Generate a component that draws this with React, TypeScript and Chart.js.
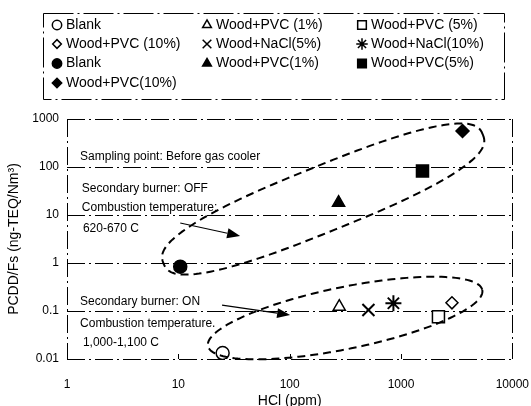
import React, { useEffect, useRef } from 'react';
import { Chart, registerables } from 'chart.js';
import { drawPoint } from 'chart.js/helpers';

Chart.register(...registerables);

const FONT = "'Liberation Sans', Arial, Helvetica, sans-serif";

// ---------- data ----------
const seriesLabels = [
  'Blank', 'Wood+PVC (1%)', 'Wood+PVC (5%)',
  'Wood+PVC (10%)', 'Wood+NaCl(5%)', 'Wood+NaCl(10%)',
  'Blank', 'Wood+PVC(1%)', 'Wood+PVC(5%)',
  'Wood+PVC(10%)',
];
const hclPpm = [25, 279, 2170, 2870, 510, 855, 10.4, 275, 1560, 3570];
const pcddfs = [0.0133, 0.123, 0.076, 0.148, 0.105, 0.145, 0.84, 18.1, 82.6, 562];

const xTickValues = [1, 10, 100, 1000, 10000];
const xTickLabels = ['1', '10', '100', '1000', '10000'];
const yTickValues = [0.01, 0.1, 1, 10, 100, 1000];
const yTickLabels = ['0.01', '0.1', '1', '10', '100', '1000'];

// ---------- marker styles ----------
const pointStyles = ['circle', 'triangle', 'rect', 'rectRot', 'crossRot', 'star', 'circle', 'triangle', 'rect', 'rectRot'];
const filledMarker = [false, false, false, false, false, false, true, true, true, true];
const markerRadius = [6.5, 7, 8.5, 6, 8.5, 8, 6.5, 7, 8.5, 6.5];

// ---------- annotations (data coordinates) ----------
const noteTexts = [
  'Sampling point: Before gas cooler',
  'Secondary burner: OFF',
  'Combustion temperature:',
  '620-670 C',
  'Secondary burner: ON',
  'Combustion temperature.',
  '1,000-1,100 C',
];
const noteX = [1.31, 1.36, 1.36, 1.39, 1.31, 1.31, 1.39];
const noteY = [161, 34.8, 14.0, 5.11, 0.154, 0.0536, 0.0216];

const loopCenterX = [200, 315];
const loopCenterY = [21.5, 0.0714];
const loopTipX = [5430, 5375];
const loopTipY = [475, 0.274];
const loopWidthRatio = [0.19, 0.221];
const loopExponent = [2.6, 2];

const arrowFromX = [10.4, 24.7];
const arrowFromY = [6.81, 0.133];
const arrowToX = [35.9, 101];
const arrowToY = [3.65, 0.0825];

// ---------- legend layout ----------
const legendCols = [57, 207, 362];
const legendRows = [25, 44, 63.5, 83];

const GRID_DASH = [18, 4, 2, 4];

const annotationPlugin = {
  id: 'annotations',
  afterDatasetsDraw(chart: any) {
    const { ctx, chartArea } = chart;
    const xs = chart.scales.x;
    const ys = chart.scales.y;
    ctx.save();
    ctx.strokeStyle = '#000';
    ctx.fillStyle = '#000';

    // small inner tick marks on the bottom axis
    ctx.lineWidth = 1;
    xs.ticks.forEach((t: any, i: number) => {
      if (i === 0 || i === xs.ticks.length - 1) return;
      const px = Math.round(xs.getPixelForValue(t.value)) + 0.5;
      ctx.beginPath();
      ctx.moveTo(px, chartArea.bottom);
      ctx.lineTo(px, chartArea.bottom - 5);
      ctx.stroke();
    });

    // dashed loops
    ctx.lineWidth = 2;
    ctx.setLineDash([8, 5]);
    for (let i = 0; i < loopCenterX.length; i++) {
      const cx = xs.getPixelForValue(loopCenterX[i]);
      const cy = ys.getPixelForValue(loopCenterY[i]);
      const tx = xs.getPixelForValue(loopTipX[i]);
      const ty = ys.getPixelForValue(loopTipY[i]);
      const a = Math.hypot(tx - cx, ty - cy);
      const b = a * loopWidthRatio[i];
      const rot = Math.atan2(ty - cy, tx - cx);
      const n = loopExponent[i];
      ctx.beginPath();
      const steps = 160;
      for (let k = 0; k <= steps; k++) {
        const t = (k / steps) * Math.PI * 2;
        const c = Math.cos(t);
        const s = Math.sin(t);
        const u = a * Math.sign(c) * Math.pow(Math.abs(c), 2 / n);
        const v = b * Math.sign(s) * Math.pow(Math.abs(s), 2 / n);
        const px = cx + u * Math.cos(rot) - v * Math.sin(rot);
        const py = cy + u * Math.sin(rot) + v * Math.cos(rot);
        if (k === 0) ctx.moveTo(px, py); else ctx.lineTo(px, py);
      }
      ctx.closePath();
      ctx.stroke();
    }
    ctx.setLineDash([]);

    // arrows
    ctx.lineWidth = 1.2;
    for (let i = 0; i < arrowFromX.length; i++) {
      const x0 = xs.getPixelForValue(arrowFromX[i]);
      const y0 = ys.getPixelForValue(arrowFromY[i]);
      const x1 = xs.getPixelForValue(arrowToX[i]);
      const y1 = ys.getPixelForValue(arrowToY[i]);
      const ang = Math.atan2(y1 - y0, x1 - x0);
      const hl = 13;
      const hw = 5;
      const bx = x1 - hl * Math.cos(ang);
      const by = y1 - hl * Math.sin(ang);
      ctx.beginPath();
      ctx.moveTo(x0, y0);
      ctx.lineTo(bx, by);
      ctx.stroke();
      ctx.beginPath();
      ctx.moveTo(x1, y1);
      ctx.lineTo(bx - hw * Math.sin(ang), by + hw * Math.cos(ang));
      ctx.lineTo(bx + hw * Math.sin(ang), by - hw * Math.cos(ang));
      ctx.closePath();
      ctx.fill();
    }

    // notes
    ctx.font = `12px ${FONT}`;
    ctx.textAlign = 'left';
    ctx.textBaseline = 'middle';
    for (let i = 0; i < noteTexts.length; i++) {
      ctx.fillText(noteTexts[i], xs.getPixelForValue(noteX[i]), ys.getPixelForValue(noteY[i]));
    }
    ctx.restore();
  },
  afterDraw(chart: any) {
    const { ctx } = chart;
    ctx.save();
    // legend box
    ctx.strokeStyle = '#000';
    ctx.lineWidth = 1;
    ctx.setLineDash([30, 4, 2, 4]);
    ctx.strokeRect(43.5, 13.5, 461, 86);
    ctx.setLineDash([]);
    ctx.font = `14px ${FONT}`;
    ctx.textAlign = 'left';
    ctx.textBaseline = 'middle';
    seriesLabels.forEach((label, i) => {
      const col = i % 3;
      const row = Math.floor(i / 3);
      const x = legendCols[col];
      const y = legendRows[row];
      ctx.fillStyle = filledMarker[i] ? '#000' : '#fff';
      ctx.strokeStyle = '#000';
      ctx.lineWidth = 1.5;
      drawPoint(ctx, {
        pointStyle: pointStyles[i],
        radius: markerRadius[i] * 0.72,
        rotation: 0,
        borderWidth: 1.5,
      } as any, x, y);
      ctx.fillStyle = '#000';
      ctx.fillText(label, x + 9, y);
    });
    ctx.restore();
  },
};

export default function App() {
  const ref = useRef<HTMLCanvasElement>(null);
  useEffect(() => {
    document.body.style.margin = '0';
    Chart.defaults.font.family = FONT;
    Chart.defaults.color = '#000';
    const datasets = seriesLabels.map((label, i) => ({
      label,
      data: [{ x: hclPpm[i], y: pcddfs[i] }],
      pointStyle: pointStyles[i] as any,
      pointRadius: markerRadius[i],
      pointHoverRadius: markerRadius[i],
      pointBorderWidth: pointStyles[i] === 'crossRot' || pointStyles[i] === 'star' ? 2 : 1.5,
      borderColor: '#000',
      backgroundColor: filledMarker[i] ? '#000' : '#fff',
      showLine: false,
    }));
    const chart = new Chart(ref.current!, {
      type: 'scatter',
      data: { datasets },
      plugins: [annotationPlugin],
      options: {
        animation: false,
        responsive: false,
        devicePixelRatio: 1,
        layout: { padding: { top: 119, right: 0, left: 0, bottom: 0 } },
        plugins: {
          legend: { display: false },
          tooltip: { enabled: false },
        },
        scales: {
          x: {
            type: 'logarithmic',
            min: 1,
            max: 10000,
            afterBuildTicks: (s: any) => { s.ticks = xTickValues.map((v) => ({ value: v })); },
            afterFit: (s: any) => { s.height = 47; },
            ticks: {
              callback: (_v: any, idx: number) => xTickLabels[idx],
              font: { size: 12 },
              color: '#000',
              padding: 2,
              autoSkip: false,
              maxRotation: 0,
            },
            grid: {
              color: (c: any) => (c.tick && (c.tick.value === 1 || c.tick.value === 10000) ? '#000' : 'rgba(0,0,0,0)'),
              drawTicks: true,
              tickLength: 16,
              tickColor: 'rgba(0,0,0,0)',
              lineWidth: 1,
            },
            border: { display: false, dash: GRID_DASH },
            title: {
              display: true,
              text: 'HCl (ppm)',
              font: { size: 14, lineHeight: 1 },
              padding: { top: 0, bottom: -2 },
              color: '#000',
            },
          },
          y: {
            type: 'logarithmic',
            min: 0.01,
            max: 1000,
            afterBuildTicks: (s: any) => { s.ticks = yTickValues.map((v) => ({ value: v })); },
            afterFit: (s: any) => { s.width = 67; },
            ticks: {
              callback: (_v: any, idx: number) => yTickLabels[idx],
              font: { size: 12 },
              color: '#000',
              padding: 8,
              autoSkip: false,
            },
            grid: { color: '#000', drawTicks: false, lineWidth: 1 },
            border: { display: false, dash: GRID_DASH },
            title: {
              display: true,
              text: 'PCDD/Fs (ng-TEQ/Nm³)',
              font: { size: 14 },
              padding: { top: 6, bottom: 0 },
              color: '#000',
            },
          },
        },
      } as any,
    });
    return () => chart.destroy();
  }, []);
  return <canvas ref={ref} width={531} height={406} style={{ display: 'block', width: 531, height: 406 }} />;
}
